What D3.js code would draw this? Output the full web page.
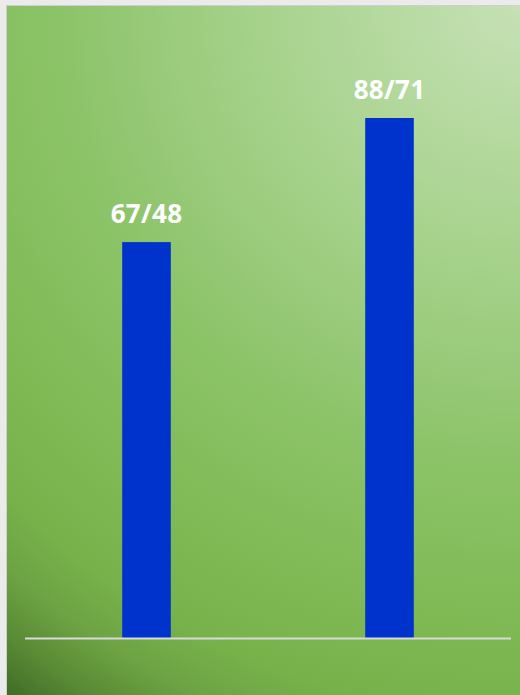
<!DOCTYPE html>
<html>
<head>
<meta charset="utf-8">
<script src="https://cdn.jsdelivr.net/npm/d3@7"></script>
<style>
  html, body { margin: 0; padding: 0; background: #ebebeb; }
  svg { display: block; }
</style>
</head>
<body>
<svg id="chart" width="520" height="695"></svg>
<script>
const categories = ["A", "B"];
const values = [67, 88];
const labels = ["67/48", "88/71"];
const yDomain = [0, 100];

const W = 520, H = 695;
const svg = d3.select("#chart");

const defs = svg.append("defs");
const grad = defs.append("radialGradient")
  .attr("id", "bg").attr("gradientUnits", "userSpaceOnUse")
  .attr("cx", 520).attr("cy", 0).attr("r", 870).attr("fx", 520).attr("fy", 0);
[[0, "#c6e1b6"], [0.30, "#a6d28b"], [0.42, "#99ca7a"], [0.52, "#8dc46a"],
 [0.62, "#85bf5e"], [0.72, "#7eb954"], [0.82, "#76b14a"], [0.88, "#6da343"],
 [0.94, "#588934"], [1, "#3d6826"]]
  .forEach(([o, c]) => grad.append("stop").attr("offset", o).attr("stop-color", c));

svg.append("rect").attr("x", 6).attr("y", 5).attr("width", W - 6).attr("height", H - 5)
  .attr("fill", "url(#bg)");
svg.append("path").attr("d", `M6.5,${H} V5.5 H${W}`)
  .attr("fill", "none").attr("stroke", "#cfcfcf").attr("stroke-width", 1);

const x = d3.scaleBand().domain(categories).range([25, 511]).padding(0);
const y = d3.scaleLinear().domain(yDomain).range([638, 47.1]);
const barW = x.bandwidth() * 0.2;

svg.append("g").selectAll("rect").data(values).join("rect")
  .attr("x", (d, i) => x(categories[i]) + x.bandwidth() / 2 - barW / 2)
  .attr("y", d => y(d))
  .attr("width", barW)
  .attr("height", d => y(0) - y(d))
  .attr("fill", "#0033cc");

svg.append("line")
  .attr("x1", 25).attr("x2", 511).attr("y1", y(0) + 0.5).attr("y2", y(0) + 0.5)
  .attr("stroke", "#d9d9d9").attr("stroke-width", 2);

svg.append("g").selectAll("text").data(values).join("text")
  .attr("x", (d, i) => x(categories[i]) + x.bandwidth() / 2)
  .attr("y", d => y(d) - 19)
  .attr("text-anchor", "middle")
  .attr("font-family", "'Open Sans', sans-serif")
  .attr("font-weight", "bold")
  .attr("font-size", 26)
  .attr("letter-spacing", 0.3)
  .attr("fill", "#ffffff")
  .text((d, i) => labels[i]);
</script>
</body>
</html>
